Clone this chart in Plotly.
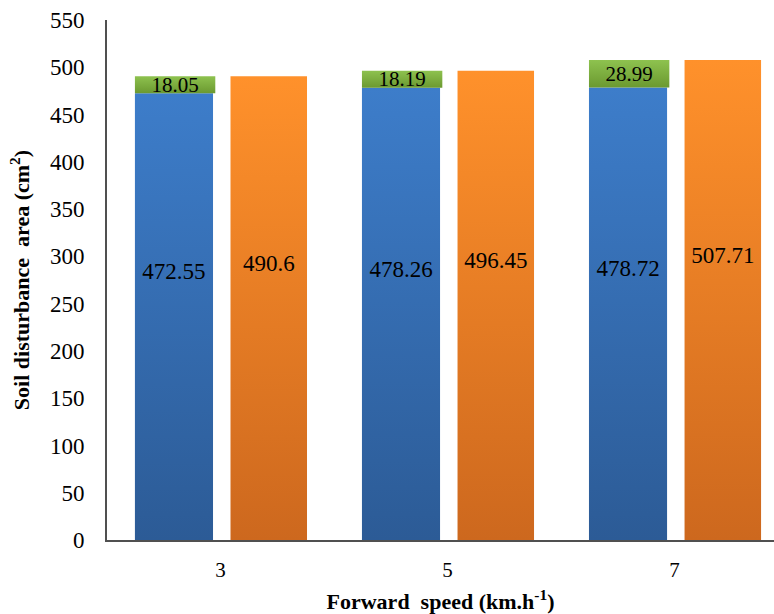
import plotly.graph_objects as go

categories = ["3", "5", "7"]
blue_vals = [472.55, 478.26, 478.72]
green_vals = [18.05, 18.19, 28.99]
orange_vals = [490.6, 496.45, 507.71]
y_ticks = list(range(0, 551, 50))

FONT = "Liberation Serif"
x_idx = list(range(len(categories)))
W = 0.344

def lbl(v):
    return f"{v}<br>&nbsp;<br>&nbsp;<br>&nbsp;"

common = dict(textposition="inside", insidetextanchor="middle", textangle=0,
              constraintext="none", cliponaxis=False)

fig = go.Figure()
fig.add_trace(go.Bar(
    x=x_idx, y=blue_vals, width=W, offset=-0.377,
    marker=dict(color="#3470BC", line=dict(width=0)),
    text=[lbl(v) for v in blue_vals],
    textfont=dict(family=FONT, size=23, color="black"),
    name="blue", **common))
fig.add_trace(go.Bar(
    x=x_idx, y=green_vals, base=blue_vals, width=W + 0.01, offset=-0.377,
    marker=dict(color="#7EAE3C", line=dict(width=0)),
    text=[str(v) for v in green_vals],
    textfont=dict(family=FONT, size=21, color="black"),
    name="green", **common))
fig.add_trace(go.Bar(
    x=x_idx, y=orange_vals, width=W - 0.007, offset=0.044,
    marker=dict(color="#EA7D24", line=dict(width=0)),
    text=[lbl(v) for v in orange_vals],
    textfont=dict(family=FONT, size=23, color="black"),
    name="orange", **common))

fig.update_layout(
    width=774, height=614,
    barmode="overlay",
    showlegend=False,
    paper_bgcolor="white", plot_bgcolor="white",
    margin=dict(l=107, r=0, t=20, b=74),
    font=dict(family=FONT, size=23, color="black"),
    uniformtext=dict(mode=False),
)
fig.update_xaxes(
    range=[-0.5, 2.438], tickmode="array", tickvals=x_idx, ticktext=categories,
    showline=True, linecolor="#505050", linewidth=2, showgrid=False,
    ticks="", zeroline=False, automargin=False, ticklabelstandoff=10,
    tickfont=dict(size=21),
    title=dict(text="<b>Forward  speed (km.h<sup>-1</sup>)</b>", font=dict(size=22), standoff=14),
)
fig.update_yaxes(
    range=[0, 550], tickvals=y_ticks, showline=True, linecolor="#505050", linewidth=2,
    showgrid=False, ticks="", zeroline=False, automargin=False, ticklabelstandoff=16,
    tickfont=dict(size=23),
    title=dict(text="<b>Soil disturbance  area (cm<sup>2</sup>)</b>", font=dict(size=22), standoff=14),
)

post = """
document.body.style.margin = '0';
document.body.style.padding = '0';
var gd = document.getElementById('{plot_id}');
function applyGrad(){
  var svg = gd.querySelector('svg.main-svg');
  if(!svg) return;
  var ns = 'http://www.w3.org/2000/svg';
  var defs = svg.querySelector('defs');
  if(!defs){ defs = document.createElementNS(ns,'defs'); svg.insertBefore(defs, svg.firstChild); }
  var specs = [['gb0','#3D7DCA','#2C5B96'],['gb1','#8EC24F','#6B9930'],['gb2','#FF912B','#CD681E']];
  specs.forEach(function(s){
    if(svg.querySelector('#'+s[0])) return;
    var g = document.createElementNS(ns,'linearGradient');
    g.setAttribute('id', s[0]); g.setAttribute('x1','0'); g.setAttribute('y1','0');
    g.setAttribute('x2','0'); g.setAttribute('y2','1');
    var a = document.createElementNS(ns,'stop'); a.setAttribute('offset','0'); a.setAttribute('stop-color', s[1]);
    var b = document.createElementNS(ns,'stop'); b.setAttribute('offset','1'); b.setAttribute('stop-color', s[2]);
    g.appendChild(a); g.appendChild(b); defs.appendChild(g);
  });
  var traces = gd.querySelectorAll('g.trace.bars');
  traces.forEach(function(t, i){
    t.querySelectorAll('path').forEach(function(p){ p.style.fill = 'url(#gb' + i + ')'; });
  });
}
applyGrad();
gd.on('plotly_afterplot', applyGrad);
"""

fig.write_html("out.html", post_script=post, config={"displayModeBar": False})
